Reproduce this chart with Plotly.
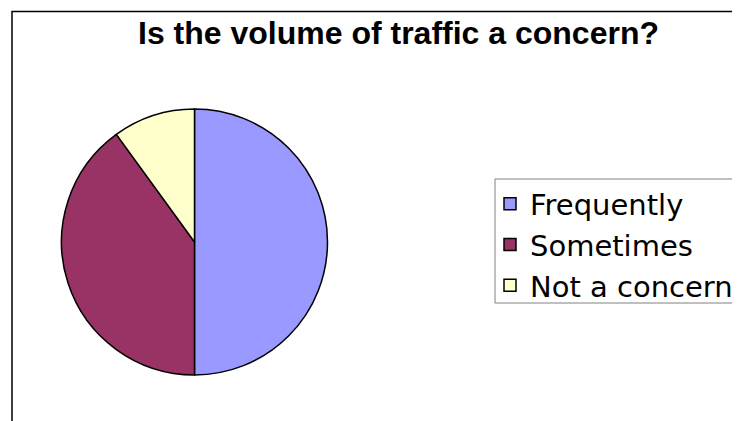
import plotly.graph_objects as go

labels = ["Frequently", "Sometimes", "Not a concern"]
values = [50, 40, 10]
colors = ["#9999FF", "#993366", "#FFFFCC"]
title_text = "Is the volume of traffic a concern?"

# the page body adds an 8px margin; the figure is sized to fill the rest of the window
OFF = 8
W, H = 740 - OFF, 421 - OFF


def px(x):
    return (x - OFF) / W


def py(y):
    return (H - (y - OFF)) / H


fig = go.Figure(go.Pie(
    labels=labels,
    values=values,
    sort=False,
    direction="clockwise",
    rotation=0,
    textinfo="none",
    hoverinfo="label+percent",
    marker=dict(colors=colors, line=dict(color="#000000", width=1.5)),
    domain=dict(x=[px(61.5), px(327.5)], y=[py(375), py(109)]),
))

# outer chart frame (runs past the visible area) and legend frame
fig.add_shape(type="rect", xref="paper", yref="paper",
              x0=px(12), x1=px(770), y0=py(450), y1=py(11.5),
              line=dict(color="#000000", width=1.5), fillcolor="rgba(0,0,0,0)", layer="below")
fig.add_shape(type="rect", xref="paper", yref="paper",
              x0=px(495), x1=px(770), y0=py(303), y1=py(179),
              line=dict(color="#808080", width=1), fillcolor="rgba(0,0,0,0)", layer="below")

fig.update_layout(
    width=W, height=H,
    margin=dict(l=0, r=0, t=0, b=0),
    paper_bgcolor="white",
    plot_bgcolor="white",
    title=dict(text="<b>" + title_text + "</b>", x=px(398.5), xanchor="center",
               y=py(32.5), yanchor="middle",
               font=dict(family="Liberation Sans, Arial", size=32, color="#000000")),
    legend=dict(x=px(490), xanchor="left", y=py(245), yanchor="middle",
                font=dict(family="DejaVu Sans, Verdana", size=29, color="#000000"),
                bgcolor="rgba(0,0,0,0)", borderwidth=0, itemclick=False),
    showlegend=True,
)

fig.write_html("out.html")
